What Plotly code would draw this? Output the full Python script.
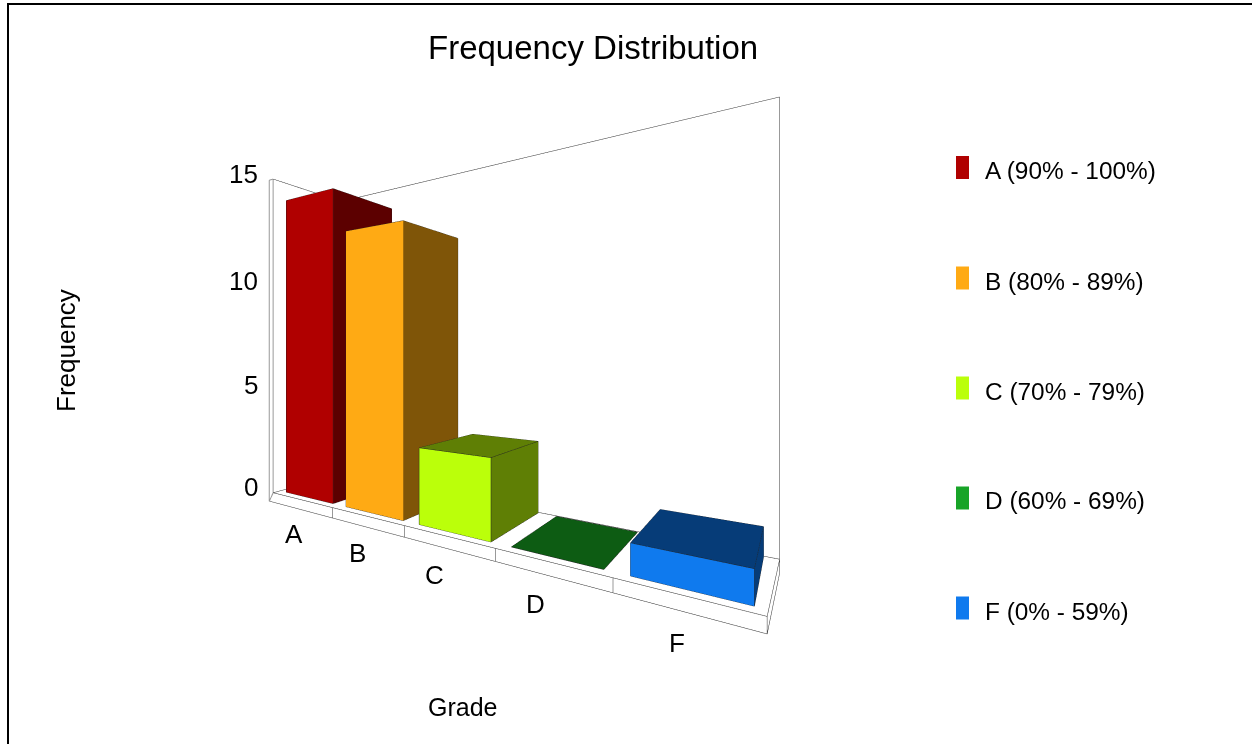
import math
import plotly.graph_objects as go

# ---- chart data ----
grades = ["A", "B", "C", "D", "F"]
legend_labels = ["A (90% - 100%)", "B (80% - 89%)", "C (70% - 79%)", "D (60% - 69%)", "F (0% - 59%)"]
frequency = [14, 12, 3, 0, 1]
z_ticks = [0, 5, 10, 15]

# ---- styling ----
front_colors = ["#B00000", "#FFAA14", "#BBFF0A", "#0D5C13", "#0F7AEE"]
side_colors = ["#5C0000", "#7F5508", "#5F7F05", "#0D5C13", "#063C78"]
legend_colors = ["#B00000", "#FFAA14", "#BBFF0A", "#18A428", "#0F7AEE"]
W, H = 1252, 744
FONT = "Liberation Sans, Arial, sans-serif"

# ---- scene geometry (world units: camera height above floor = 1) ----
X0, DX = -2.84, 0.6175      # world x of category 0 and the category pitch
UNIT = 0.1465               # world height of one frequency unit
SKEW = 0.2721
XA = -3.092
BAR_W = 0.8
BAR_BACK_DS = 0.015
T_BAR_F, T_BAR_B = 3.834, 4.58
T_FLOOR_F, T_FLOOR_B = 3.755, 4.594
S_IN, S_OUT = -0.51, -0.583
S_RF, S_RB = 4.475, 4.525
Z_SLAB = -0.45
ZMAX = 15
ZMAX_R = 15.08

XR = (-3.3, 0.1)
YR = (2.8, 4.7)
ZR = (-0.1, 2.3)
K = 0.3


def yy(s, t):
    return t - SKEW * (X0 + DX * s - XA)


def rng_s():
    return [(XR[0] - X0) / DX, (XR[1] - X0) / DX]


fig = go.Figure()

# bars
for i, v in enumerate(frequency):
    l, r = i - BAR_W / 2, i + BAR_W / 2
    corners = [(l, T_BAR_F), (r, T_BAR_F), (r + BAR_BACK_DS, T_BAR_B), (l + BAR_BACK_DS, T_BAR_B)]
    xs, ys, zs = [], [], []
    for z in (0, v):
        for s, t in corners:
            xs.append(s)
            ys.append(yy(s, t))
            zs.append(z)
    # faces: front, right side, back, left, top
    faces = [(0, 1, 5, front_colors[i]), (0, 5, 4, front_colors[i]),
             (1, 2, 6, side_colors[i]), (1, 6, 5, side_colors[i]),
             (2, 3, 7, side_colors[i]), (2, 7, 6, side_colors[i]),
             (3, 0, 4, side_colors[i]), (3, 4, 7, side_colors[i]),
             (4, 5, 6, side_colors[i]), (4, 6, 7, side_colors[i])]
    if v == 0:
        faces = faces[-2:]
    fig.add_trace(go.Mesh3d(
        x=xs, y=ys, z=zs,
        i=[f[0] for f in faces], j=[f[1] for f in faces], k=[f[2] for f in faces],
        facecolor=[f[3] for f in faces], flatshading=True,
        lighting=dict(ambient=1, diffuse=0, specular=0, fresnel=0, roughness=1),
        hoverinfo="skip", showlegend=False))
    ex, ey, ez = [], [], []
    edges = [(0, 1), (1, 5), (5, 4), (4, 0), (5, 6), (6, 7), (7, 4), (1, 2), (2, 6)]
    if v == 0:
        edges = [(4, 5), (5, 6), (6, 7), (7, 4)]
    for a, b in edges:
        ex += [xs[a], xs[b], None]
        ey += [ys[a], ys[b], None]
        ez += [zs[a], zs[b], None]
    fig.add_trace(go.Scatter3d(x=ex, y=ey, z=ez, mode="lines",
                               line=dict(color="#222222", width=1),
                               hoverinfo="skip", showlegend=False))


def add_lines(segs, color, width):
    ex, ey, ez = [], [], []
    for (s1, t1, z1), (s2, t2, z2) in segs:
        ex += [s1, s2, None]
        ey += [yy(s1, t1), yy(s2, t2), None]
        ez += [z1, z2, None]
    fig.add_trace(go.Scatter3d(x=ex, y=ey, z=ez, mode="lines",
                               line=dict(color=color, width=width),
                               hoverinfo="skip", showlegend=False))


F, B = T_FLOOR_F, T_FLOOR_B
# floor slab and back wall
slab = [((S_IN, F, 0), (S_RF, F, 0)),
        ((S_OUT, F, Z_SLAB), (S_RF, F, Z_SLAB)),
        ((S_RF, F, 0), (S_RF, F, Z_SLAB)),
        ((S_RF, F, 0), (S_RB, B, 0)),
        ((S_RF, F, Z_SLAB), (S_RB, B, Z_SLAB)),
        ((S_RB, B, 0), (S_RB, B, Z_SLAB)),
        ((S_IN, B, 0), (S_RB, B, 0)),
        ((S_IN, B, ZMAX), (S_RB, B, ZMAX_R)),
        ((S_RB, B, 0), (S_RB, B, ZMAX_R)),
        ((S_IN, F, ZMAX), (S_IN, B, ZMAX)),
        ((S_IN, F, 0), (S_IN, B, 0))]
for i in range(len(grades) - 1):
    slab.append(((i + 0.5, F, 0), (i + 0.5, F, Z_SLAB)))
add_lines(slab, "#333333", 1)
# left wall uprights
add_lines([((S_IN, F, 0), (S_IN, F, ZMAX)),
           ((S_OUT, F, Z_SLAB), (S_OUT, F, ZMAX)),
           ((S_OUT, F, ZMAX), (S_IN, F, ZMAX)),
           ((S_OUT, F, Z_SLAB), (S_IN, F, 0))], "#999999", 2)

# tick labels anchored in the scene
cat_dx = [-8, -9, -13, -15, -9]
cat_dy = [-24, -26, -26, -28, -31]
tick_dy = [5, 3, 3, 6]
scene_ann = []
for v, dy in zip(z_ticks, tick_dy):
    scene_ann.append(dict(x=S_OUT, y=yy(S_OUT, F), z=v, text=str(v), showarrow=False,
                          xanchor="right", yanchor="middle", xshift=-9, yshift=dy,
                          font=dict(family=FONT, size=26, color="black")))
for i, g in enumerate(grades):
    scene_ann.append(dict(x=i, y=yy(i, F), z=Z_SLAB, text=g, showarrow=False,
                          xanchor="center", yanchor="middle",
                          xshift=cat_dx[i], yshift=cat_dy[i],
                          font=dict(family=FONT, size=26, color="black")))

# camera: level view, horizon through the middle of the scene viewport
fw = (-0.4924, 0.8703, 0.0)
mid = ((XR[0] + XR[1]) / 2, (YR[0] + YR[1]) / 2, (ZR[0] + ZR[1]) / 2)
eye = (K * (0 - mid[0]), K * (0 - mid[1]), K * (1 - mid[2]))
center = tuple(e + K * f for e, f in zip(eye, fw))

hidden = dict(visible=False, showgrid=False, zeroline=False, showticklabels=False)
scene = dict(
    domain=dict(x=[0, 800 / W], y=[1 - 636 / H, 1 - 64 / H]),
    aspectmode="manual",
    aspectratio=dict(x=K * (XR[1] - XR[0]), y=K * (YR[1] - YR[0]), z=K * (ZR[1] - ZR[0])),
    xaxis=dict(range=rng_s(), **hidden),
    yaxis=dict(range=list(YR), **hidden),
    zaxis=dict(range=[ZR[0] / UNIT, ZR[1] / UNIT], **hidden),
    bgcolor="white",
    camera=dict(eye=dict(x=eye[0], y=eye[1], z=eye[2]),
                center=dict(x=center[0], y=center[1], z=center[2]),
                up=dict(x=0, y=0, z=1),
                projection=dict(type="perspective")),
    annotations=scene_ann,
)


def px(x):
    return x / W


def py(y):
    return 1 - y / H


ann = [
    dict(x=px(593), y=py(47), text="Frequency Distribution", font=dict(size=33)),
    dict(x=px(462), y=py(707), text="Grade", font=dict(size=25)),
    dict(x=px(66), y=py(351), text="Frequency", textangle=-90, font=dict(size=26)),
]
shapes = [
    dict(type="line", xref="paper", yref="paper", x0=px(8), x1=px(W), y0=py(4), y1=py(4),
         line=dict(color="black", width=2)),
    dict(type="line", xref="paper", yref="paper", x0=px(8), x1=px(8), y0=py(3), y1=py(H),
         line=dict(color="black", width=2)),
]
legend_y = [167.5, 278, 388, 498, 608]
for lab, col, y in zip(legend_labels, legend_colors, legend_y):
    shapes.append(dict(type="rect", xref="paper", yref="paper",
                       x0=px(956), x1=px(969), y0=py(y - 11.5), y1=py(y + 11.5),
                       fillcolor=col, line=dict(width=0)))
    ann.append(dict(x=px(983), y=py(y + 3), text=lab, xanchor="left", font=dict(size=24.4)))
for a in ann:
    a.update(xref="paper", yref="paper", showarrow=False)
    if "xanchor" not in a:
        a["xanchor"] = "center"
    a["yanchor"] = "middle"
    a["font"].update(family=FONT, color="black")

fig.update_layout(width=W, height=H, margin=dict(l=0, r=0, t=0, b=0, pad=0),
                  paper_bgcolor="white", plot_bgcolor="white", showlegend=False,
                  scene=scene, annotations=ann, shapes=shapes)

fig.write_html("out.html", config=dict(displayModeBar=False),
               post_script="document.body.style.margin='0';document.body.style.overflow='hidden';")
